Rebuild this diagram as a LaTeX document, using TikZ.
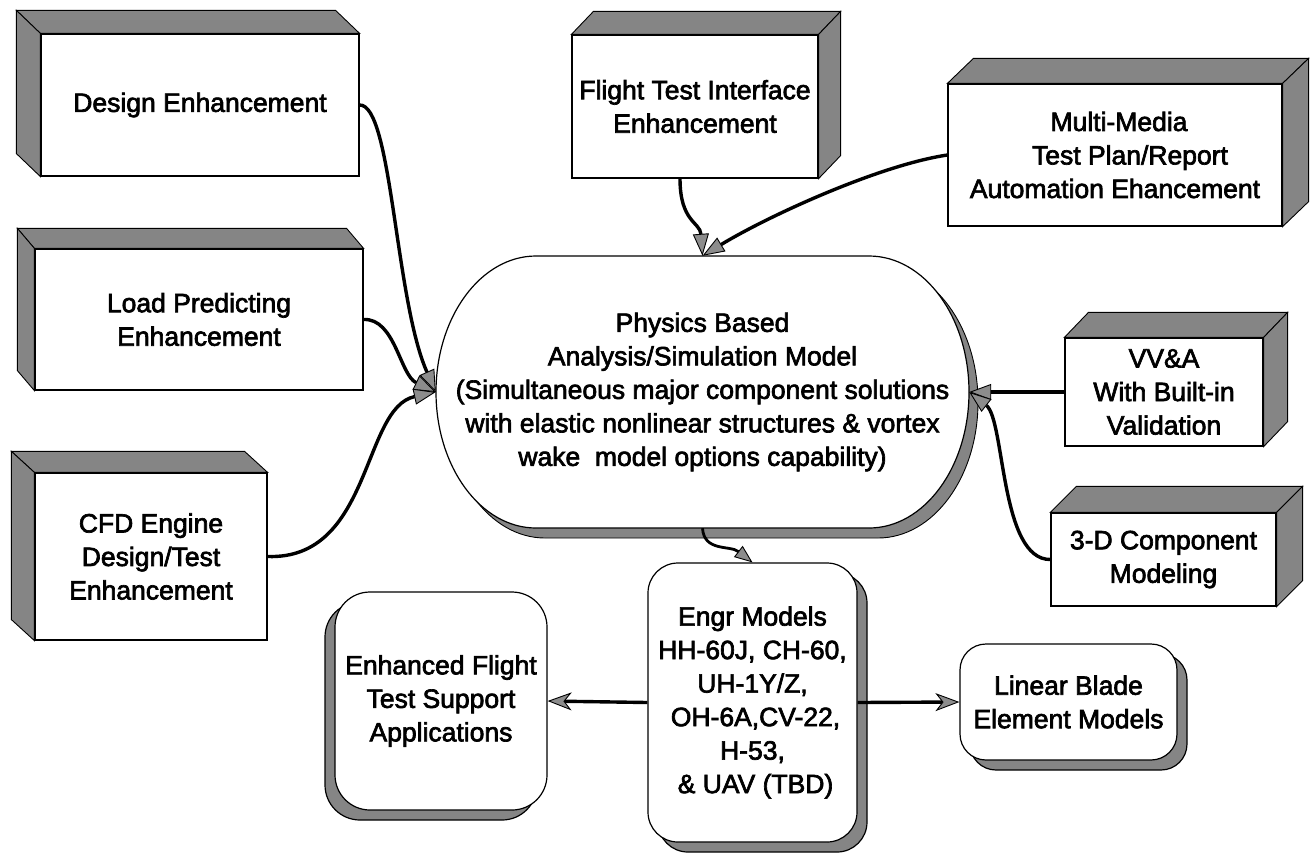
\documentclass[tikz,border=0pt]{standalone}
\usepackage{fontspec}
\setmainfont{Liberation Sans}
\newfontfamily\lblfamily{Liberation Sans}[FakeBold=2.5]
\usetikzlibrary{arrows.meta,calc,shadows}
\newcommand\lbl{\lblfamily\fontsize{26.5}{33.5}\selectfont}
\begin{document}
\begin{tikzpicture}[x=1pt,y=-1pt,
  face/.style={fill=black!48, draw=black, line width=0.9pt},
  frontbox/.style={draw=black, fill=white, line width=1.2pt, inner sep=0pt, align=center, font=\lbl},
  rbox/.style={draw=black, fill=white, line width=1.2pt, inner sep=0pt, align=center, font=\lbl, rounded corners=30pt},
  conn/.style={line width=3.4pt},
  tip/.style={-{Triangle[length=22pt,width=16pt,fill=black!45,line width=0.9pt]}},
  stip/.style={-{Stealth[length=24pt,width=18pt,inset=7pt,fill=black!45,line width=0.9pt]}},
]
\useasboundingbox (0,0) rectangle (1314,855);
\newcommand\cubefaces[3]{%
  \filldraw[face] (#1.north west) -- ++(#2,#3) -- ([shift={(#2,#3)}]#1.north east) -- (#1.north east) -- cycle;
  \ifdim #2pt<0pt
    \filldraw[face] (#1.north west) -- ++(#2,#3) -- ([shift={(#2,#3)}]#1.south west) -- (#1.south west) -- cycle;
  \else
    \filldraw[face] (#1.north east) -- ++(#2,#3) -- ([shift={(#2,#3)}]#1.south east) -- (#1.south east) -- cycle;
  \fi}

% 3D boxes
\node[frontbox, minimum width=318pt, minimum height=142pt] (design) at (200,105) {Design Enhancement};
\cubefaces{design}{-24}{-23}
\node[frontbox, minimum width=328pt, minimum height=141pt] (load) at (199,319.5) {Load Predicting\\Enhancement};
\cubefaces{load}{-17}{-20}
\node[frontbox, minimum width=232pt, minimum height=167pt] (cfd) at (151,556.5) {CFD Engine\\Design/Test\\Enhancement};
\cubefaces{cfd}{-23}{-21}
\node[frontbox, minimum width=246pt, minimum height=143pt] (flight) at (695,106.5) {Flight Test Interface\\Enhancement};
\cubefaces{flight}{22}{-23}
\node[frontbox, minimum width=334pt, minimum height=142pt] (multi) at (1115,155) {\hspace*{8pt}Multi-Media\\\hspace*{30pt}Test Plan/Report\\Automation Ehancement};
\cubefaces{multi}{26}{-25}
\node[frontbox, minimum width=198pt, minimum height=108pt] (vva) at (1164,392) {VV\&A\\With Built-in\\Validation};
\cubefaces{vva}{24}{-25}
\node[frontbox, minimum width=225pt, minimum height=93pt] (comp) at (1163.5,559.5) {3-D Component\\Modeling};
\cubefaces{comp}{26}{-26}

% central stadium shape
\begin{scope}[shift={(9,10)}]
\filldraw[face] (536,256) -- (869,256) .. controls (924.2,256) and (969,316.9) .. (969,392) .. controls (969,467.1) and (924.2,528) .. (869,528) -- (536,528) .. controls (480.8,528) and (436,467.1) .. (436,392) .. controls (436,316.9) and (480.8,256) .. (536,256) -- cycle;
\end{scope}
\filldraw[fill=white, draw=black, line width=1.2pt] (536,256) -- (869,256) .. controls (924.2,256) and (969,316.9) .. (969,392) .. controls (969,467.1) and (924.2,528) .. (869,528) -- (536,528) .. controls (480.8,528) and (436,467.1) .. (436,392) .. controls (436,316.9) and (480.8,256) .. (536,256) -- cycle;
\node[inner sep=0pt, minimum width=533pt, minimum height=272pt, align=center, font=\lbl] (phys) at (702.5,392)
  {Physics Based\\Analysis/Simulation Model\\(Simultaneous major component solutions\\with elastic nonlinear structures \& vortex\\wake\ \ model options capability)};

% rounded boxes
\node[rbox, minimum width=209pt, minimum height=279pt,
  drop shadow={shadow xshift=10pt, shadow yshift=-10pt, fill=black!48, draw=black, opacity=1}] (engr) at (752.5,702.5)
  {Engr Models\\HH-60J, CH-60,\\UH-1Y/Z,\\\hspace*{6pt}OH-6A,CV-22,\\H-53,\\\hspace*{6pt}\& UAV (TBD)};
\node[rbox, rounded corners=35pt, minimum width=212pt, minimum height=218pt,
  drop shadow={shadow xshift=-10pt, shadow yshift=-10pt, fill=black!48, draw=black, opacity=1}] (enh) at (441,701)
  {Enhanced Flight\\Test Support\\Applications};
\node[rbox, rounded corners=26pt, minimum width=217pt, minimum height=116pt,
  drop shadow={shadow xshift=10pt, shadow yshift=-10pt, fill=black!48, draw=black, opacity=1}] (lin) at (1068.5,702)
  {Linear Blade\\Element Models};

% connectors
\draw[conn,tip] (design.east) .. controls (392,104) and (395,300) .. (phys.west);
\draw[conn,tip] (load.east) .. controls (395,318) and (400,375) .. (phys.west);
\draw[conn,tip] (cfd.east) .. controls (372,560) and (362,408) .. (phys.west);
\draw[conn,tip] ([xshift=-15pt]flight.south) .. controls (680,222) and (700,222) .. (phys.north);
\draw[conn,tip] (multi.west) .. controls (880,165) and (770,215) .. (phys.north);
\draw[conn,tip] (vva.west) -- (phys.east);
\draw[conn,tip] (comp.west) .. controls (1000,560) and (1005,420) .. (phys.east);
\draw[line width=2.8pt,-{Triangle[length=18pt,width=14pt,fill=black!45,line width=0.9pt]}] (phys.south) .. controls (704,552) and (730,545) .. (engr.north);
\draw[conn,stip] (engr.west) -- (enh.east);
\draw[conn,stip] (engr.east) -- (lin.west);
\end{tikzpicture}
\end{document}
